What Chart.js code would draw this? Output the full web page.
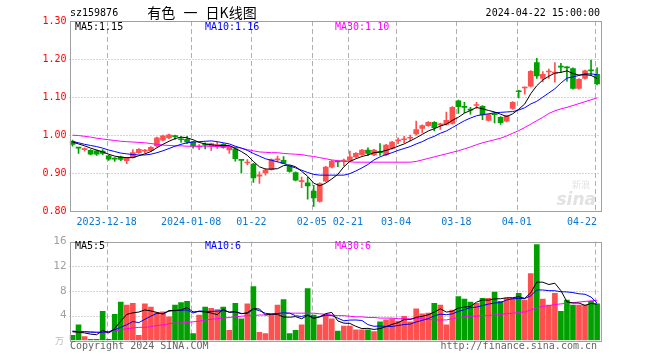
<!DOCTYPE html>
<html><head><meta charset="utf-8">
<script src="https://cdn.jsdelivr.net/npm/chart.js@4/dist/chart.umd.min.js"></script>
<style>
html,body{margin:0;padding:0;background:#fff;}
#wrap{position:relative;width:660px;height:360px;overflow:hidden;}
canvas{position:absolute;left:0;}
#c1{top:0;} #c2{top:232px;}
</style></head><body>
<div id="wrap"><canvas id="c1" width="660" height="232"></canvas><canvas id="c2" width="660" height="128"></canvas></div>
<script>
const categories = ['2023-12-08','2023-12-11','2023-12-12','2023-12-13','2023-12-14','2023-12-15','2023-12-18','2023-12-19','2023-12-20','2023-12-21','2023-12-22','2023-12-25','2023-12-26','2023-12-27','2023-12-28','2023-12-29',
'2024-01-02','2024-01-03','2024-01-04','2024-01-05','2024-01-08','2024-01-09','2024-01-10','2024-01-11','2024-01-12','2024-01-15','2024-01-16','2024-01-17','2024-01-18','2024-01-19','2024-01-22','2024-01-23','2024-01-24','2024-01-25','2024-01-26','2024-01-29','2024-01-30','2024-01-31',
'2024-02-01','2024-02-02','2024-02-05','2024-02-06','2024-02-07','2024-02-08','2024-02-19','2024-02-20','2024-02-21','2024-02-22','2024-02-23','2024-02-26','2024-02-27','2024-02-28','2024-02-29',
'2024-03-01','2024-03-04','2024-03-05','2024-03-06','2024-03-07','2024-03-08','2024-03-11','2024-03-12','2024-03-13','2024-03-14','2024-03-15','2024-03-18','2024-03-19','2024-03-20','2024-03-21','2024-03-22','2024-03-25','2024-03-26','2024-03-27','2024-03-28','2024-03-29',
'2024-04-01','2024-04-02','2024-04-03','2024-04-08','2024-04-09','2024-04-10','2024-04-11','2024-04-12','2024-04-15','2024-04-16','2024-04-17','2024-04-18','2024-04-19','2024-04-22'];

const openP = [0.984,0.968,0.962,0.960,0.959,0.958,0.946,0.938,0.943,0.933,
0.941,0.954,0.958,0.959,0.972,0.987,0.993,0.997,0.990,0.989,
0.982,0.969,0.975,0.971,0.973,0.976,0.961,0.964,0.935,0.927,
0.924,0.892,0.901,0.910,0.935,0.934,0.918,0.902,0.878,0.875,
0.853,0.826,0.879,0.916,0.931,0.932,0.934,0.943,0.949,0.961,
0.948,0.955,0.948,0.965,0.985,0.988,0.992,1.003,1.018,1.025,
1.034,1.027,1.028,1.031,1.090,1.074,1.067,1.078,1.076,1.039,
1.057,1.047,1.037,1.070,1.115,1.124,1.129,1.191,1.149,1.166,
1.163,1.180,1.178,1.175,1.123,1.149,1.170,1.160];
const highP = [0.987,0.968,0.967,0.962,0.961,0.962,0.948,0.941,0.945,0.942,
0.962,0.965,0.963,0.970,0.995,1.000,1.003,1.000,0.996,0.997,
0.984,0.975,0.980,0.979,0.982,0.978,0.970,0.969,0.935,0.936,
0.926,0.904,0.912,0.938,0.945,0.944,0.920,0.904,0.890,0.889,
0.868,0.875,0.918,0.934,0.931,0.937,0.958,0.954,0.963,0.967,
0.963,0.978,0.976,0.984,0.993,0.997,1.000,1.037,1.027,1.036,
1.036,1.032,1.061,1.075,1.092,1.086,1.073,1.086,1.078,1.056,
1.060,1.049,1.053,1.088,1.118,1.127,1.170,1.202,1.167,1.174,
1.191,1.189,1.180,1.177,1.149,1.171,1.197,1.177];
const lowP = [0.971,0.952,0.958,0.948,0.947,0.949,0.934,0.931,0.933,0.925,
0.940,0.952,0.954,0.957,0.970,0.985,0.991,0.989,0.981,0.978,
0.966,0.962,0.964,0.960,0.965,0.966,0.952,0.932,0.901,0.922,
0.876,0.873,0.895,0.908,0.930,0.925,0.903,0.880,0.862,0.832,
0.813,0.824,0.877,0.914,0.917,0.919,0.932,0.941,0.947,0.946,
0.946,0.947,0.946,0.963,0.978,0.980,0.985,1.000,1.006,1.023,
1.011,1.015,1.026,1.029,1.057,1.059,1.055,1.070,1.041,1.037,
1.032,1.028,1.035,1.068,1.098,1.108,1.127,1.149,1.140,1.149,
1.139,1.165,1.142,1.121,1.121,1.147,1.158,1.132];
const closeP = [0.976,0.966,0.963,0.950,0.950,0.952,0.937,0.937,0.936,0.941,
0.954,0.963,0.959,0.968,0.993,0.998,1.001,0.996,0.988,0.982,
0.971,0.970,0.974,0.978,0.974,0.968,0.969,0.938,0.934,0.928,
0.888,0.896,0.908,0.936,0.936,0.926,0.905,0.882,0.880,0.867,
0.835,0.873,0.916,0.932,0.930,0.933,0.943,0.952,0.961,0.952,
0.961,0.954,0.974,0.982,0.986,0.989,0.993,1.015,1.025,1.034,
1.020,1.028,1.039,1.073,1.075,1.073,1.066,1.079,1.053,1.054,
1.054,1.033,1.051,1.086,1.114,1.125,1.168,1.156,1.160,1.167,
1.164,1.179,1.177,1.123,1.147,1.169,1.169,1.135];

const ma5 = [0.982,0.977,0.972,0.966,0.961,0.956,0.950,0.945,0.942,0.941,
0.941,0.946,0.951,0.957,0.967,0.976,0.984,0.991,0.995,0.993,
0.988,0.981,0.977,0.975,0.973,0.973,0.973,0.965,0.957,0.947,
0.931,0.917,0.911,0.911,0.912,0.920,0.922,0.917,0.905,0.892,
0.874,0.867,0.874,0.885,0.897,0.917,0.931,0.938,0.944,0.948,
0.954,0.956,0.960,0.965,0.971,0.977,0.985,0.993,1.002,1.011,
1.017,1.024,1.029,1.039,1.047,1.058,1.065,1.073,1.069,1.065,
1.061,1.055,1.049,1.056,1.068,1.082,1.109,1.130,1.145,1.155,
1.163,1.165,1.169,1.162,1.158,1.159,1.157,1.149];
const ma10 = [0.983,0.980,0.976,0.973,0.970,0.966,0.961,0.957,0.953,0.951,
0.949,0.948,0.948,0.950,0.954,0.959,0.965,0.971,0.976,0.980,
0.982,0.983,0.984,0.985,0.983,0.980,0.977,0.971,0.966,0.960,
0.952,0.945,0.938,0.934,0.930,0.926,0.919,0.914,0.908,0.902,
0.897,0.895,0.895,0.895,0.895,0.895,0.899,0.906,0.914,0.923,
0.935,0.943,0.949,0.954,0.960,0.965,0.970,0.977,0.983,0.991,
0.997,1.005,1.011,1.020,1.029,1.038,1.045,1.051,1.054,1.056,
1.059,1.060,1.061,1.062,1.066,1.072,1.082,1.089,1.100,1.111,
1.122,1.137,1.150,1.153,1.157,1.161,1.161,1.159];
const ma30 = [1.000,0.999,0.997,0.995,0.992,0.990,0.988,0.986,0.984,0.983,
0.982,0.981,0.980,0.978,0.976,0.974,0.973,0.972,0.972,0.971,
0.971,0.971,0.971,0.971,0.970,0.970,0.970,0.968,0.966,0.962,
0.959,0.956,0.955,0.954,0.954,0.952,0.951,0.950,0.949,0.946,
0.944,0.941,0.938,0.935,0.933,0.931,0.930,0.929,0.929,0.929,
0.929,0.929,0.929,0.929,0.929,0.929,0.929,0.931,0.935,0.939,
0.943,0.947,0.951,0.955,0.959,0.964,0.969,0.975,0.980,0.984,
0.988,0.992,0.998,1.005,1.012,1.020,1.029,1.038,1.047,1.057,
1.064,1.069,1.073,1.078,1.083,1.088,1.093,1.098];

const volume = [0.8,2.5,0.6,0.15,0.15,4.7,0.15,4.2,6.2,5.7,
6.0,0.8,5.9,5.4,4.5,4.6,3.8,5.7,6.1,6.3,
1.1,4.1,5.4,5.2,5.0,5.4,1.6,6.0,3.5,5.9,
8.7,1.3,1.1,4.2,5.7,6.6,1.1,1.6,2.5,8.4,
4.1,2.5,4.1,3.5,1.5,2.3,2.3,1.7,1.7,1.7,
1.4,3.0,3.3,3.5,3.1,3.9,3.0,5.1,4.3,4.4,
6.0,5.7,2.5,4.9,7.1,6.7,6.2,6.0,6.8,6.8,
7.8,6.3,6.8,6.8,7.6,6.5,10.8,15.5,6.7,5.7,
7.6,4.7,6.5,5.7,5.7,5.7,6.3,5.9];
const volMa5 = [1.4,1.3,1.2,1.0,0.9,1.6,1.2,1.9,3.1,4.2,
4.45,4.58,4.92,4.76,4.52,4.24,4.84,4.80,4.94,5.30,
4.60,4.66,4.60,4.42,4.16,5.02,4.52,4.64,4.30,4.48,
5.14,5.08,4.10,4.24,4.20,3.78,3.74,3.84,3.50,4.04,
3.54,3.82,4.32,4.52,3.14,2.78,2.74,2.26,1.90,1.94,
1.76,1.90,2.22,2.58,2.86,3.36,3.36,3.72,3.88,4.14,
4.56,5.10,4.58,4.70,5.24,5.38,5.48,6.18,6.56,6.50,
6.72,6.74,6.90,6.90,7.06,6.80,7.70,9.44,9.42,9.04,
9.26,8.04,6.24,6.04,6.04,5.66,5.98,5.86];
const volMa10 = [1.5,1.4,1.4,1.3,1.3,1.3,1.4,1.7,2.1,2.52,
3.04,2.87,3.40,3.92,4.36,4.35,4.71,4.86,4.85,4.91,
4.42,4.75,4.70,4.68,4.73,4.81,4.59,4.62,4.36,4.32,
5.08,4.80,4.37,4.27,4.34,4.46,4.41,3.97,3.87,4.12,
3.66,3.78,4.08,4.01,3.59,3.16,3.28,3.29,3.21,2.54,
2.27,2.32,2.24,2.24,2.40,2.56,2.63,2.97,3.23,3.50,
3.96,4.23,4.15,4.29,4.69,4.97,5.29,5.38,5.63,5.87,
6.05,6.11,6.54,6.73,6.78,6.76,7.22,8.17,8.16,8.05,
8.03,7.87,7.84,7.73,7.54,7.46,7.01,6.05];
const volMa30 = [1.4,1.4,1.4,1.4,1.3,1.3,1.3,1.5,1.7,1.9,
2.0,2.1,2.1,2.2,2.4,2.5,2.7,2.8,2.8,2.9,
3.0,3.1,3.3,3.4,3.5,3.6,3.7,3.8,3.9,4.0,
4.0,4.1,4.1,4.2,4.3,4.3,4.4,4.4,4.4,4.4,
4.4,4.3,4.2,4.1,4.0,4.0,3.9,3.8,3.8,3.7,
3.7,3.6,3.6,3.6,3.5,3.5,3.5,3.5,3.5,3.4,
3.3,3.3,3.3,3.5,3.7,3.8,3.9,3.9,4.0,4.0,
4.1,4.2,4.3,4.4,4.5,4.6,4.9,5.3,5.5,5.6,
5.8,5.9,6.0,6.1,6.2,6.3,6.4,6.5];

const priceTicks = [0.8, 0.9, 1.0, 1.1, 1.2, 1.3];
const volTicks = [0, 4, 8, 12, 16];
const dateTickIndex = [6, 20, 30, 40, 46, 54, 64, 74, 87];
const dateTickLabels = ['2023-12-18','2024-01-08','01-22','02-05','02-21','03-04','03-18','04-01','04-22'];
const stockCode = 'sz159876';
const chartTitle = '有色 一 日K线图';
const stamp = '2024-04-22 15:00:00';

const RED = '#ff5050', GREEN = '#00a000';
const MONO = '"DejaVu Sans Mono", "Liberation Mono", monospace';
const up = closeP.map((c, i) => c >= openP[i]);
const candleColor = up.map(u => u ? RED : GREEN);

function gridPlugin(id, hVals, drawExtra) {
  return {
    id: id,
    beforeDatasetsDraw(chart) {
      const ctx = chart.ctx, a = chart.chartArea, xs = chart.scales.x, ys = chart.scales.y;
      ctx.save();
      ctx.lineWidth = 1;
      ctx.strokeStyle = '#a8a8a8';
      ctx.setLineDash([1, 2]);
      hVals.forEach(v => {
        const y = Math.round(ys.getPixelForValue(v)) + 0.5;
        ctx.beginPath(); ctx.moveTo(a.left, y); ctx.lineTo(a.right, y); ctx.stroke();
      });
      ctx.setLineDash([5, 3]);
      ctx.strokeStyle = '#b0b0b0';
      dateTickIndex.forEach(i => {
        const x = Math.round(xs.getPixelForValue(i) - 2) + 0.5;
        ctx.beginPath(); ctx.moveTo(x, a.top); ctx.lineTo(x, a.bottom); ctx.stroke();
      });
      ctx.restore();
    },
    afterDatasetsDraw(chart) {
      const ctx = chart.ctx, a = chart.chartArea;
      ctx.save();
      ctx.strokeStyle = '#a0a0a0';
      ctx.lineWidth = 1;
      ctx.strokeRect(Math.round(a.left) + 0.5, Math.round(a.top) + 0.5, Math.round(a.right - a.left), Math.round(a.bottom - a.top));
      ctx.restore();
      drawExtra(chart);
    }
  };
}

function legend(ctx, items, y) {
  ctx.font = '10px ' + MONO;
  ctx.textBaseline = 'middle';
  ctx.textAlign = 'left';
  items.forEach(it => { ctx.fillStyle = it[2]; ctx.fillText(it[0], it[1], y); });
}

const last = arr => arr[arr.length - 1];

const mainExtra = chart => {
  const ctx = chart.ctx, xs = chart.scales.x, a = chart.chartArea;
  ctx.save();
  // watermark
  ctx.fillStyle = '#e2e2e2';
  ctx.font = 'italic bold 17px "DejaVu Sans", sans-serif';
  ctx.textAlign = 'right'; ctx.textBaseline = 'alphabetic';
  ctx.fillText('sina', 596, 205);
  ctx.font = '9px "Noto Sans CJK SC", sans-serif';
  ctx.fillText('新浪', 590, 188);
  // legend
  legend(ctx, [
    ['MA5:' + last(ma5).toFixed(2), 75, '#000000'],
    ['MA10:' + last(ma10).toFixed(2), 205, '#0000ff'],
    ['MA30:' + last(ma30).toFixed(2), 335, '#ff00ff']
  ], 27.5);
  // header
  ctx.fillStyle = '#000';
  ctx.font = '10px ' + MONO;
  ctx.textAlign = 'left';
  ctx.fillText(stockCode, 70, 13);
  ctx.textAlign = 'right';
  ctx.fillText(stamp, 600, 13);
  ctx.textAlign = 'center';
  ctx.font = '14px "Noto Sans CJK SC", sans-serif';
  try { ctx.wordSpacing = '5px'; } catch (e) {}
  ctx.fillText(chartTitle, 202, 13);
  try { ctx.wordSpacing = '0px'; } catch (e) {}
  // date labels
  ctx.font = '10px ' + MONO;
  ctx.fillStyle = '#0a78d2';
  ctx.textAlign = 'center';
  dateTickIndex.forEach((i, k) => {
    const w = ctx.measureText(dateTickLabels[k]).width;
    let x = xs.getPixelForValue(i) - 2;
    if (x + w / 2 > a.right - 3) x = a.right - 3 - w / 2;
    ctx.fillText(dateTickLabels[k], x, 222);
  });
  ctx.restore();
};

const volExtra = chart => {
  const ctx = chart.ctx;
  ctx.save();
  legend(ctx, [
    ['MA5:' + Math.floor(last(volMa5)), 75, '#000000'],
    ['MA10:' + Math.floor(last(volMa10)), 205, '#0000ff'],
    ['MA30:' + Math.floor(last(volMa30)), 335, '#ff00ff']
  ], 14.5);
  ctx.fillStyle = '#666';
  ctx.font = '10px ' + MONO;
  ctx.textAlign = 'left';
  ctx.fillText('Copyright 2024 SINA.COM', 70, 114);
  ctx.textAlign = 'right';
  ctx.fillText('http://finance.sina.com.cn', 597, 114);
  ctx.fillStyle = '#bbbbbb';
  ctx.font = '9px "Noto Sans CJK SC", sans-serif';
  ctx.fillText('万', 64, 109);
  ctx.restore();
};

function lineDs(data, color, order) {
  return { type: 'line', data: data, borderColor: color, borderWidth: 1, pointRadius: 0, fill: false, tension: 0, order: order };
}

const common = {
  responsive: false, animation: false, devicePixelRatio: 1,
  plugins: { legend: { display: false }, tooltip: { enabled: false } },
  events: []
};

new Chart(document.getElementById('c1'), {
  type: 'bar',
  data: {
    labels: categories,
    datasets: [
      lineDs(ma5, '#000000', 0),
      lineDs(ma10, '#0000ff', 0),
      lineDs(ma30, '#ff00ff', 0),
      { data: openP.map((o, i) => [o, closeP[i]]), backgroundColor: candleColor, barThickness: 5, grouped: false, minBarLength: 1, order: 1 },
      { data: lowP.map((l, i) => [l, highP[i]]), backgroundColor: candleColor, barThickness: 1, grouped: false, order: 2 }
    ]
  },
  options: Object.assign({}, common, {
    layout: { padding: { left: 0, right: 59.9, top: 21, bottom: 20.7 } },
    scales: {
      x: { type: 'category', offset: true, display: false, grid: { display: false } },
      y: {
        min: 0.8, max: 1.3,
        afterFit: s => { s.width = 69.5; },
        afterBuildTicks: s => { s.ticks = priceTicks.map(v => ({ value: v })); },
        grid: { display: false, drawTicks: false },
        border: { display: false },
        ticks: { color: '#ff0000', padding: 3, font: { family: MONO, size: 10 }, callback: v => Number(v).toFixed(2) }
      }
    }
  }),
  plugins: [gridPlugin('g1', [0.9, 1.0, 1.1, 1.2], mainExtra)]
});

new Chart(document.getElementById('c2'), {
  type: 'bar',
  data: {
    labels: categories,
    datasets: [
      lineDs(volMa5, '#000000', 0),
      lineDs(volMa10, '#0000ff', 0),
      lineDs(volMa30, '#ff00ff', 0),
      { data: volume, backgroundColor: candleColor, barThickness: 5, grouped: false, order: 1 }
    ]
  },
  options: Object.assign({}, common, {
    layout: { padding: { left: 0, right: 59.9, top: 8.6, bottom: 19.7 } },
    scales: {
      x: { type: 'category', offset: true, display: false, grid: { display: false } },
      y: {
        min: 0, max: 16,
        afterFit: s => { s.width = 69.5; },
        afterBuildTicks: s => { s.ticks = volTicks.map(v => ({ value: v })); },
        grid: { display: false, drawTicks: false },
        border: { display: false },
        ticks: { color: '#a0a0a0', padding: 3, font: { family: MONO, size: 11 }, callback: v => v === 0 ? '' : String(v) }
      }
    }
  }),
  plugins: [gridPlugin('g2', [4, 8, 12], volExtra)]
});
</script>
</body></html>
